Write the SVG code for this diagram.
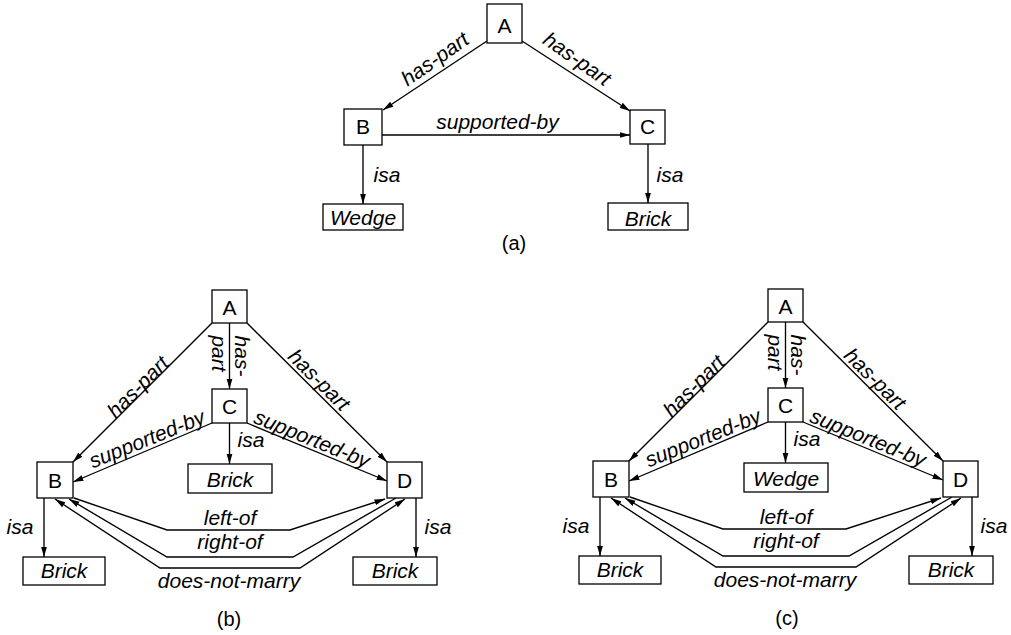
<svg xmlns="http://www.w3.org/2000/svg" width="1011" height="635" viewBox="0 0 1011 635">
  <style>
    .box { fill: #fff; stroke: #000; stroke-width: 1.3; }
    .edge { fill: none; stroke: #000; stroke-width: 1.35; }
    .arr { marker-end: url(#ah); }
    .both { marker-start: url(#ah); marker-end: url(#ah); }
    text { font-family: "Liberation Sans", Arial, sans-serif; font-size: 21px; fill: #000; text-anchor: middle; }
    .it { font-style: italic; }
    .cap { font-size: 20px; }
  </style>
  <defs>
    <marker id="ah" markerUnits="userSpaceOnUse" viewBox="0 0 11 7" markerWidth="11" markerHeight="7" refX="10.5" refY="3.5" orient="auto-start-reverse">
      <path d="M0,0.5 L10.5,3.5 L0,6.5 z" fill="#000"/>
    </marker>
  </defs>
  <rect width="1011" height="635" fill="#fff"/>

  <!-- (a) -->
  <g id="panel-a">
    <g id="a-edges">
      <path class="edge arr" d="M487,41 L383,110"/>
      <path class="edge arr" d="M522,41 L630,111"/>
      <path class="edge arr" d="M382,135 L630,135"/>
      <path class="edge arr" d="M363,145 L363,204"/>
      <path class="edge arr" d="M648,144 L648,203"/>
      <text class="it" transform="translate(435,59) rotate(-35)" y="7">has-part</text>
      <text class="it" transform="translate(577,59) rotate(35)" y="7">has-part</text>
      <text class="it" x="497.5" y="129">supported-by</text>
      <text class="it" x="387" y="182">isa</text>
      <text class="it" x="670" y="182">isa</text>
    </g>
    <g id="a-A"><rect class="box" x="487" y="4" width="35" height="39"/><text x="504.5" y="33">A</text></g>
    <g id="a-B"><rect class="box" x="344" y="109" width="38" height="36"/><text x="363" y="133.5">B</text></g>
    <g id="a-C"><rect class="box" x="630" y="110" width="35" height="34"/><text x="647.5" y="134">C</text></g>
    <g id="a-wedge"><rect class="box" x="323" y="204" width="80" height="26"/><text class="it" x="363" y="225">Wedge</text></g>
    <g id="a-brick"><rect class="box" x="608" y="203" width="80" height="27"/><text class="it" x="648" y="226">Brick</text></g>
    <text class="cap" x="514" y="250">(a)</text>
  </g>

  <!-- (b) -->
  <g id="panel-b">
    <g id="b-edges">
      <path class="edge arr" d="M212,323 L73,462"/>
      <path class="edge arr" d="M229.5,323 L229.5,389"/>
      <path class="edge arr" d="M247,323 L387,462"/>
      <path class="edge arr" d="M212,423 L73,482"/>
      <path class="edge arr" d="M247,423 L387,481"/>
      <path class="edge arr" d="M229.5,423 L229.5,464"/>
      <path class="edge arr" d="M44,498 L44,557"/>
      <path class="edge arr" d="M416,498 L416,557"/>
      <path class="edge arr" d="M74,498 L167,530 L290,530 L385,499"/>
      <path class="edge arr" d="M396,498 L293,557 L167,557 L69,499"/>
      <path class="edge both" d="M55,499 L160,568 L300,568 L405,499"/>
      <text class="it" transform="translate(138,387) rotate(-45)" y="7">has-part</text>
      <text class="it" transform="translate(319,380) rotate(45)" y="7">has-part</text>
      <text class="it" transform="translate(241.5,356) rotate(90)" y="7">has-</text>
      <text class="it" transform="translate(218.5,353.5) rotate(90)" y="7">part</text>
      <text class="it" transform="translate(147,439) rotate(-22)" y="7">supported-by</text>
      <text class="it" transform="translate(312,439) rotate(22)" y="7">supported-by</text>
      <text class="it" x="251" y="447">isa</text>
      <text class="it" x="20" y="534">isa</text>
      <text class="it" x="438" y="534">isa</text>
      <text class="it" x="230" y="525">left-of</text>
      <text class="it" x="230" y="549">right-of</text>
      <text class="it" x="229" y="588">does-not-marry</text>
    </g>
    <g id="b-A"><rect class="box" x="212" y="290" width="35" height="33"/><text x="229.5" y="315">A</text></g>
    <g id="b-C"><rect class="box" x="212" y="389" width="35" height="34"/><text x="229.5" y="414">C</text></g>
    <g id="b-B"><rect class="box" x="37" y="462" width="36" height="36"/><text x="55" y="488">B</text></g>
    <g id="b-D"><rect class="box" x="387" y="462" width="35" height="36"/><text x="404.5" y="488">D</text></g>
    <g id="b-brick-c"><rect class="box" x="188" y="464" width="84" height="29"/><text class="it" x="230" y="486.5">Brick</text></g>
    <g id="b-brick-b"><rect class="box" x="23" y="557" width="82" height="28"/><text class="it" x="64" y="578">Brick</text></g>
    <g id="b-brick-d"><rect class="box" x="353" y="557" width="84" height="28"/><text class="it" x="395" y="578">Brick</text></g>
    <text class="cap" x="229" y="626">(b)</text>
  </g>

  <!-- (c): same layout as (b), shifted right -->
  <g id="panel-c" transform="translate(556,-1)">
    <g id="c-edges">
      <path class="edge arr" d="M212,323 L73,462"/>
      <path class="edge arr" d="M229.5,323 L229.5,389"/>
      <path class="edge arr" d="M247,323 L387,462"/>
      <path class="edge arr" d="M212,423 L73,482"/>
      <path class="edge arr" d="M247,423 L387,481"/>
      <path class="edge arr" d="M229.5,423 L229.5,464"/>
      <path class="edge arr" d="M44,498 L44,557"/>
      <path class="edge arr" d="M416,498 L416,557"/>
      <path class="edge arr" d="M74,498 L167,530 L290,530 L385,499"/>
      <path class="edge arr" d="M396,498 L293,557 L167,557 L69,499"/>
      <path class="edge both" d="M55,499 L160,568 L300,568 L405,499"/>
      <text class="it" transform="translate(138,387) rotate(-45)" y="7">has-part</text>
      <text class="it" transform="translate(319,380) rotate(45)" y="7">has-part</text>
      <text class="it" transform="translate(241.5,356) rotate(90)" y="7">has-</text>
      <text class="it" transform="translate(218.5,353.5) rotate(90)" y="7">part</text>
      <text class="it" transform="translate(147,439) rotate(-22)" y="7">supported-by</text>
      <text class="it" transform="translate(312,439) rotate(22)" y="7">supported-by</text>
      <text class="it" x="251" y="447">isa</text>
      <text class="it" x="20" y="534">isa</text>
      <text class="it" x="438" y="534">isa</text>
      <text class="it" x="230" y="525">left-of</text>
      <text class="it" x="230" y="549">right-of</text>
      <text class="it" x="229" y="588">does-not-marry</text>
    </g>
    <g id="c-A"><rect class="box" x="212" y="290" width="35" height="33"/><text x="229.5" y="315">A</text></g>
    <g id="c-C"><rect class="box" x="212" y="389" width="35" height="34"/><text x="229.5" y="414">C</text></g>
    <g id="c-B"><rect class="box" x="37" y="462" width="36" height="36"/><text x="55" y="488">B</text></g>
    <g id="c-D"><rect class="box" x="387" y="462" width="35" height="36"/><text x="404.5" y="488">D</text></g>
    <g id="c-wedge"><rect class="box" x="188" y="464" width="84" height="29"/><text class="it" x="230" y="486.5">Wedge</text></g>
    <g id="c-brick-b"><rect class="box" x="23" y="557" width="82" height="28"/><text class="it" x="64" y="578">Brick</text></g>
    <g id="c-brick-d"><rect class="box" x="353" y="557" width="84" height="28"/><text class="it" x="395" y="578">Brick</text></g>
    <text class="cap" x="231" y="626">(c)</text>
  </g>
</svg>
